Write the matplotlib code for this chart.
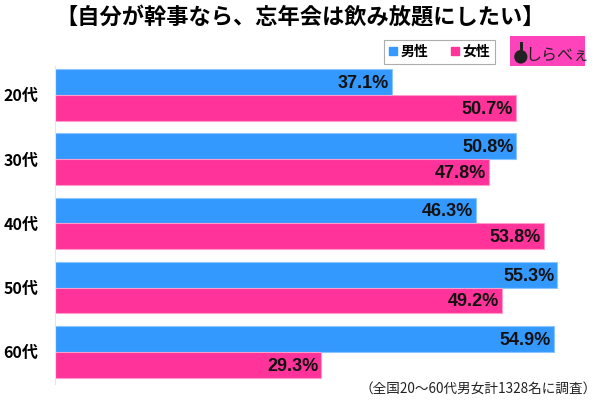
import matplotlib.pyplot as plt
from matplotlib.patches import Patch, Rectangle, Ellipse
import numpy as np

plt.rcParams['font.family'] = ['Noto Sans CJK JP', 'DejaVu Sans']

# Data
ages = ["20代", "30代", "40代", "50代", "60代"]
male = [37.1, 50.8, 46.3, 55.3, 54.9]
female = [50.7, 47.8, 53.8, 49.2, 29.3]
series_names = ["男性", "女性"]

title = "【自分が幹事なら、忘年会は飲み放題にしたい】"
note = "（全国20～60代男女計1328名に調査）"

blue = "#3399ff"
pink = "#ff3399"

fig = plt.figure(figsize=(6, 4), dpi=100)
ax = fig.add_axes([0.092, 0.04, 0.908, 0.795])

y = np.arange(len(ages))
h = 0.4
bm = ax.barh(y - h / 2, male, height=h, color=blue, edgecolor="#8cc4ff", linewidth=0.8)
bf = ax.barh(y + h / 2, female, height=h, color=pink, edgecolor="#ff9ccc", linewidth=0.8)

for bars, vals in ((bm, male), (bf, female)):
    for b, v in zip(bars, vals):
        ax.text(v - 0.3, b.get_y() + b.get_height() / 2 + 0.02, f"{v:.1f}%",
                ha="right", va="center", fontsize=13, fontweight="bold",
                color="#111111", family=["Liberation Sans", "DejaVu Sans"])

ax.set_xlim(0, 60)
ax.set_ylim(4.5, -0.45)
ax.set_yticks(y)
ax.set_yticklabels(ages, fontsize=11.5, fontweight="bold")
ax.tick_params(axis="y", length=0, pad=12)
ax.set_xticks([])
for s in ("top", "right", "bottom"):
    ax.spines[s].set_visible(False)
ax.spines["left"].set_color("#e6e6e6")

fig.text(0.5, 0.955, title, ha="center", va="center", fontsize=16, fontweight="bold")

handles = [Patch(color=blue), Patch(color=pink)]
leg = fig.legend(handles, series_names, ncol=2, loc="center", bbox_to_anchor=(0.733, 0.87),
                 frameon=True, fancybox=False, edgecolor="#999999", handlelength=0.55,
                 handleheight=0.55, handletextpad=0.3, columnspacing=1.6,
                 prop={"size": 10, "weight": "bold"}, borderpad=0.35)
leg.get_frame().set_linewidth(0.8)

# logo
fig.patches.append(Rectangle((0.85, 0.835), 0.125, 0.075, transform=fig.transFigure,
                             facecolor="#ff44bb", edgecolor="none"))
fig.patches.append(Ellipse((0.868, 0.858), 0.022, 0.034, transform=fig.transFigure,
                           facecolor="#222222", edgecolor="none"))
fig.patches.append(Rectangle((0.866, 0.86), 0.005, 0.035, transform=fig.transFigure,
                             facecolor="#222222", edgecolor="none"))
fig.text(0.928, 0.862, "しらべぇ", ha="center", va="center", fontsize=11.5,
         color="#222222")

fig.text(0.995, 0.028, note, ha="right", va="center", fontsize=9.8, color="#222222")

fig.savefig("out.png", dpi=100)
